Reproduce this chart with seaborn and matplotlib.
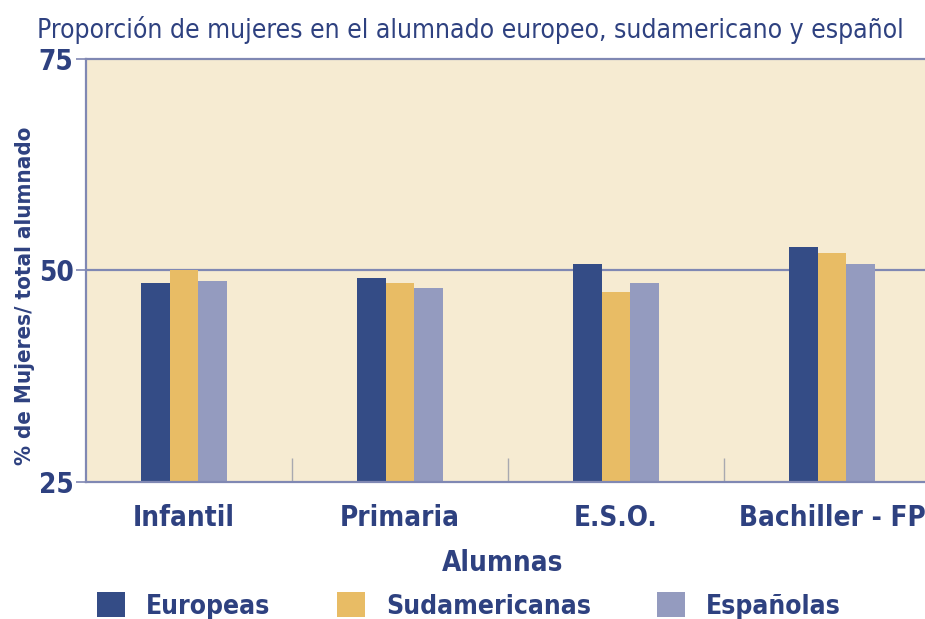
import matplotlib
matplotlib.use("Agg")
import matplotlib.pyplot as plt
import seaborn as sns
import pandas as pd
from matplotlib.ticker import FixedLocator
from matplotlib.patches import Patch

categories = ["Infantil", "Primaria", "E.S.O.", "Bachiller - FP"]
europeas = [48.5, 49.1, 50.7, 52.8]
sudamericanas = [50.0, 48.5, 47.4, 52.0]
espanolas = [48.7, 47.9, 48.5, 50.7]
series_names = ["Europeas", "Sudamericanas", "Españolas"]
y_ticks = [25, 50, 75]

title = "Proporción de mujeres en el alumnado europeo, sudamericano y español"
top_label = "Gráfico 2"
x_label = "Alumnas"
y_label = "% de Mujeres/ total alumnado"

colors = ["#344c86", "#e8bc65", "#949bbf"]
navy = "#2e4180"
axis_col = "#8088b3"

sns.set_theme(style="white")
fam = ["DejaVu Sans", "Liberation Sans"]
plt.rcParams["font.family"] = fam
plt.rcParams["font.stretch"] = "condensed"

rows = []
for name, vals in zip(series_names, [europeas, sudamericanas, espanolas]):
    for c, v in zip(categories, vals):
        rows.append({"cat": c, "serie": name, "val": v})
df = pd.DataFrame(rows)

fig = plt.figure(figsize=(9.25, 6.19), dpi=100)
ax = fig.add_axes([0.093, 0.2215, 0.907, 0.6835])
ax.set_facecolor("#f6ebd2")

sns.barplot(data=df, x="cat", y="val", hue="serie", order=categories,
            hue_order=series_names, palette=colors, width=0.396,
            saturation=1, edgecolor="none", linewidth=0, ax=ax, legend=False)

ax.set_ylim(25, 75)
ax.set_xlim(-0.4525, 3.431)
ax.set_yticks(y_ticks)
ax.set_yticklabels([str(t) for t in y_ticks], fontsize=20, color=navy, fontweight="bold")
ax.set_xticks(range(len(categories)))
ax.set_xticklabels(categories, fontsize=20, color=navy, fontweight="bold")
ax.xaxis.set_minor_locator(FixedLocator([0.5, 1.5, 2.5]))
ax.tick_params(axis="x", which="major", length=0, pad=16)
ax.tick_params(axis="x", which="minor", direction="in", length=17, width=1, color="#a9a9b0", bottom=True)
ax.tick_params(axis="y", which="major", direction="out", length=7, width=1.2, color=axis_col, left=True, pad=2)

ax.axhline(50, color=axis_col, lw=1.6, zorder=0.5)
for s in ["left", "bottom", "top"]:
    ax.spines[s].set_visible(True)
    ax.spines[s].set_color(axis_col)
    ax.spines[s].set_linewidth(1.6)
ax.spines["right"].set_visible(False)

ax.set_xlabel(x_label, fontsize=20, color=navy, fontweight="bold")
ax.xaxis.set_label_coords(0.497, -0.159)
ax.set_ylabel(y_label, fontsize=16, color=navy, fontweight="bold")
ax.yaxis.set_label_coords(-0.061, 0.44)

fig.text(0.508, 0.951, title, ha="center", va="center", fontsize=19, color=navy)
fig.text(0.505, 1 - 0.5 / 619, top_label, ha="center", va="baseline", fontsize=20,
         color="#e8bc65", fontweight="bold")

handles = [Patch(facecolor=c, edgecolor="none") for c in colors]
fig.legend(handles, series_names, loc="center", bbox_to_anchor=(0.507, 0.021), ncol=3,
           frameon=False, handlelength=1.06, handleheight=1.06,
           columnspacing=2.5, handletextpad=0.8,
           labelcolor=navy, prop={"weight": "bold", "size": 19, "family": fam, "stretch": "condensed"})

fig.savefig("out.png", dpi=100, facecolor="white")
